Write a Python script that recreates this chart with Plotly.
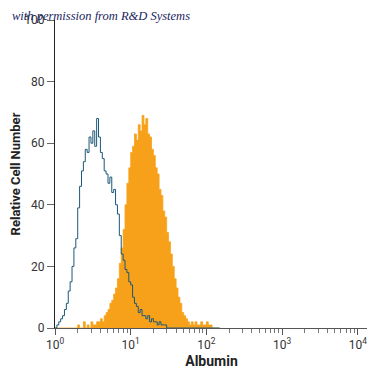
import plotly.graph_objects as go

# Histogram channels: log10 bin step (instrument scale), values per channel
LOG_STEP = 0.025
channels = list(range(88))

isotype_counts = [
    0, 1, 2, 3, 4, 6, 8, 12, 15, 20,
    26, 29, 39, 46, 51, 54, 58, 57, 62, 60,
    64, 59, 68, 62, 57, 55, 51, 50, 47, 49,
    44, 45, 40, 37, 30, 24, 22, 19, 18, 15,
    14, 10, 8, 7, 5, 6, 4, 4, 3, 4,
    2, 3, 2, 2, 1, 2, 1, 1, 1, 0,
    0, 0, 0, 0, 0, 0, 0, 0, 0, 0,
    0, 0, 0, 0, 0, 0, 0, 0, 0, 0,
    0, 0, 0, 0, 0, 0, 0, 0,
]

albumin_counts = [
    0, 0, 0, 0, 0, 0, 0, 0, 0, 0,
    0, 0, 1, 0, 0, 2, 0, 1, 0, 2,
    1, 1, 2, 2, 3, 2, 4, 5, 6, 8,
    9, 11, 13, 16, 21, 26, 32, 40, 47, 52,
    57, 59, 63, 61, 66, 64, 69, 66, 68, 63,
    62, 58, 56, 52, 50, 45, 43, 38, 36, 31,
    28, 24, 20, 16, 13, 10, 8, 5, 4, 3,
    2, 1, 2, 1, 2, 1, 1, 2, 1, 1,
    2, 1, 1, 0, 0, 0, 0, 0,
]

x_edges = [10 ** (c * LOG_STEP) for c in channels]

x_tickvals = [1, 10, 100, 1000, 10000]
x_ticktext = ["10<sup>0</sup>", "10<sup>1</sup>", "10<sup>2</sup>", "10<sup>3</sup>", "10<sup>4</sup>"]
y_ticks = [0, 20, 40, 60, 80, 100]

font_family = "Roboto, Lato, sans-serif"

fig = go.Figure()
fig.add_trace(go.Scatter(
    x=x_edges, y=albumin_counts, mode="lines", line_shape="hv",
    line=dict(color="#F7A11A", width=0.8), fill="tozeroy",
    fillcolor="#F7A11A", hoverinfo="skip", showlegend=False,
))
fig.add_trace(go.Scatter(
    x=x_edges, y=isotype_counts, mode="lines", line_shape="hv",
    line=dict(color="#1B5878", width=1), hoverinfo="skip", showlegend=False,
))

# page body adds an 8px offset; figure is sized/margined to compensate
fig.update_layout(
    width=367, height=367,
    margin=dict(l=47, r=7, t=12, b=47),
    paper_bgcolor="white", plot_bgcolor="white",
    font=dict(family=font_family, size=12, color="#333333"),
    xaxis=dict(
        type="log", range=[0, 4.135], tickvals=x_tickvals, ticktext=x_ticktext,
        automargin=False,
        showgrid=False, zeroline=False, showline=True, linecolor="#555555",
        linewidth=1, ticks="outside", ticklen=6, tickcolor="#555555",
        tickfont=dict(size=12, color="#333333"),
        minor=dict(ticks="outside", ticklen=4, tickcolor="#777777", dtick="D1", showgrid=False),
        title=dict(text="<b>Albumin</b>", font=dict(size=14, color="#222222"), standoff=4),
    ),
    yaxis=dict(
        range=[0, 100], tickvals=y_ticks, showgrid=False, zeroline=False,
        automargin=False,
        showline=True, linecolor="#222222", linewidth=1, ticks="outside",
        ticklen=7, tickcolor="#666666", tickfont=dict(size=12, color="#333333"),
        title=dict(text="<b>Relative Cell Number</b>", font=dict(size=13, color="#222222"), standoff=6),
    ),
    annotations=[dict(
        text="<i>with permission from R&amp;D Systems</i>",
        xref="paper", yref="paper", x=-0.144, y=1.013,
        xanchor="left", yanchor="middle", showarrow=False,
        font=dict(family="Liberation Serif, DejaVu Serif, serif", size=12.5, color="#1A2560"),
    )],
)

fig.write_html("out.html")
